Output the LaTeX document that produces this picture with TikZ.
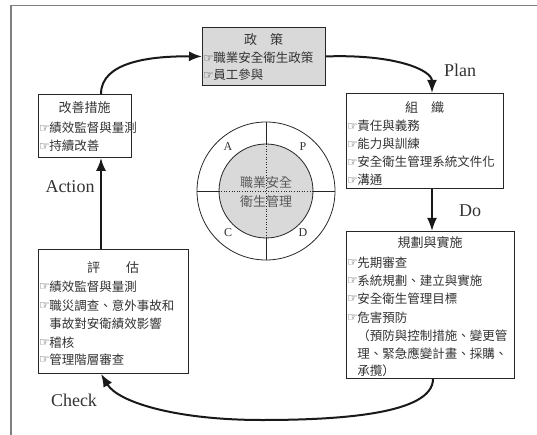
\documentclass[tikz,border=0pt]{standalone}
\usepackage{fontspec}
\usetikzlibrary{arrows.meta}
\newfontfamily\cjk{Noto Sans CJK TC}
\newfontfamily\dvs{DejaVu Sans}
\newfontfamily\tms{Liberation Serif}
\newcommand\hnd{\raisebox{0.8pt}{\dvs\fontsize{12}{12}\selectfont ☞}\hspace{-0.5pt}}
\definecolor{txt}{HTML}{333333}
\definecolor{boxfill}{HTML}{D9D9D9}
\definecolor{framec}{HTML}{7F7F7F}
\begin{document}
\begin{tikzpicture}[x=1pt,y=-1pt,
  box/.style={draw=black!85, line width=0.9pt, anchor=north west, inner sep=0pt},
  ttl/.style={font=\cjk\fontsize{13}{13}\selectfont, text=txt, inner sep=0pt, anchor=center},
  ln/.style={font=\cjk\fontsize{12.5}{13}\selectfont, text=txt, inner sep=0pt, anchor=base west},
  lbl/.style={font=\tms\fontsize{18}{18}\selectfont, text=txt, inner sep=0pt},
  pdca/.style={font=\tms\fontsize{12}{12}\selectfont, text=txt, inner sep=0pt},
  arr/.style={line width=2pt, draw=black!90, -{Latex[length=13pt,width=10pt]}},
  ring/.style={draw=black!85, line width=0.8pt}]
\useasboundingbox (0,0) rectangle (537,435);
% frame
\draw[framec, line width=1.2pt] (11,435) -- (11,5.5) -- (537,5.5);

% policy box
\node[box, fill=boxfill, minimum width=123, minimum height=58] (pol) at (202,27) {};
\node[ttl] (polt) at (263.5,40) {政　策};
\node[ln] (pol1) at (203,63) {\hnd 職業安全衛生政策};
\node[ln] (pol2) at (203,80) {\hnd 員工參與};

% organization box
\node[box, minimum width=157, minimum height=95] (org) at (346,93) {};
\node[ttl] (orgt) at (424.5,107) {組　織};
\node[ln] (org1) at (347,131) {\hnd 責任與義務};
\node[ln] (org2) at (347,149) {\hnd 能力與訓練};
\node[ln] (org3) at (347,167) {\hnd 安全衛生管理系統文件化};
\node[ln] (org4) at (347,185) {\hnd 溝通};

% planning box
\node[box, minimum width=168, minimum height=147] (pln) at (346,231) {};
\node[ttl] (plnt) at (430,243) {規劃與實施};
\node[ln] (pln1) at (347,267) {\hnd 先期審查};
\node[ln] (pln2) at (347,285) {\hnd 系統規劃、建立與實施};
\node[ln] (pln3) at (347,303) {\hnd 安全衛生管理目標};
\node[ln] (pln4) at (347,322) {\hnd 危害預防};
\node[ln] (pln5) at (347,340) {\phantom{\hnd}（預防與控制措施、變更管};
\node[ln] (pln6) at (347,358) {\phantom{\hnd}理、緊急應變計畫、採購、};
\node[ln] (pln7) at (347,375) {\phantom{\hnd}承攬）};

% evaluation box
\node[box, minimum width=150, minimum height=124] (ev) at (38,249) {};
\node[ttl] (evt) at (113,268) {評　　估};
\node[ln] (ev1) at (39,291) {\hnd 績效監督與量測};
\node[ln] (ev2) at (39,310) {\hnd 職災調查、意外事故和};
\node[ln] (ev3) at (39,328) {\phantom{\hnd}事故對安衛績效影響};
\node[ln] (ev4) at (39,347) {\hnd 稽核};
\node[ln] (ev5) at (39,364) {\hnd 管理階層審查};

% improvement box
\node[box, minimum width=93, minimum height=63] (imp) at (38,94) {};
\node[ttl] (impt) at (84.5,108) {改善措施};
\node[ln] (imp1) at (39,133) {\hnd 績效監督與量測};
\node[ln] (imp2) at (39,151) {\hnd 持續改善};

% central circle
\node[circle, ring, minimum size=138pt, inner sep=0pt] (outer) at (266,191) {};
\node[circle, ring, fill=boxfill, minimum size=94pt, inner sep=0pt] (inner) at (266,191) {};
\draw[ring] (outer.west) -- (inner.west);
\draw[ring] (inner.east) -- (outer.east);
\draw[ring] (outer.north) -- (inner.north);
\draw[ring] (inner.south) -- (outer.south);
\draw[black!85, line width=0.6pt, dotted] (inner.west) -- (inner.east);
\draw[black!85, line width=0.6pt, dotted] (inner.north) -- (inner.south);
\node[ttl, text=black!65] (ct1) at (266,183) {職業安全};
\node[ttl, text=black!65] (ct2) at (266,202) {衛生管理};
\node[pdca] (la) at (228,147) {A};
\node[pdca] (lp) at (303,147) {P};
\node[pdca] (lc) at (228,233) {C};
\node[pdca] (ld) at (303,233) {D};

% cycle labels
\node[lbl] (plan) at (460,70) {Plan};
\node[lbl] (do) at (470,211) {Do};
\node[lbl] (check) at (74,400) {Check};
\node[lbl] (action) at (70,187) {Action};

% arrows
\coordinate (bot) at (262,420);
\draw[arr] ([xshift=63pt]imp.north west) .. controls (101,62) and (150,56) .. (pol.west);
\draw[arr] (pol.east) .. controls (395,54) and (432,70) .. ([xshift=86pt]org.north west);
\draw[arr] ([xshift=86pt]org.south west) -- ([xshift=86pt]pln.north west);
\draw[arr] ([xshift=87pt]pln.south west) .. controls (433,414) and (340,420) .. (bot)
  .. controls (175,420) and (118,402) .. ([xshift=63pt]ev.south west);
\draw[arr] ([xshift=63pt]ev.north west) -- ([xshift=63pt]imp.south west);
\end{tikzpicture}
\end{document}
